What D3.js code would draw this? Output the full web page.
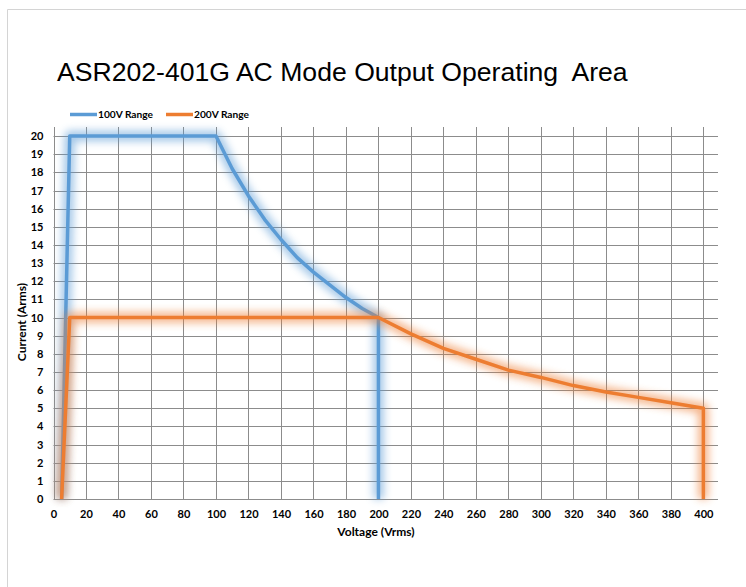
<!DOCTYPE html>
<html><head><meta charset="utf-8">
<script src="https://cdn.jsdelivr.net/npm/d3@7"></script>
<style>body{margin:0;background:#fff}svg{display:block}</style>
</head><body><svg id="c" width="746" height="587"></svg>
<script>
const title = "ASR202-401G AC Mode Output Operating\u00a0 Area";
const xTicks = d3.range(0, 401, 20);
const yTicks = d3.range(0, 21, 1);
const seriesNames = ["100V Range", "200V Range"];
const colors = ["#5b9bd5", "#ed7d31"];
const v100 = [5, 10, 100, 110, 120, 130, 140, 150, 160, 170, 180, 190, 200, 200];
const i100 = [0, 20, 20, 18.2, 16.7, 15.4, 14.3, 13.3, 12.5, 11.8, 11.1, 10.5, 10, 0];
const v200 = [5, 10, 200, 220, 240, 260, 280, 300, 320, 340, 360, 380, 400, 400];
const i200 = [0, 10, 10, 9.1, 8.3, 7.7, 7.1, 6.7, 6.25, 5.9, 5.6, 5.3, 5, 0];

const svg = d3.select("#c");
svg.append("path").attr("d","M7.5,587 V9.5 H746").attr("fill","none").attr("stroke","#d4d4d4").attr("stroke-width",1);

const L=53.5, R=718, T=127, B=499;
const x = d3.scaleLinear().domain([0, 409]).range([L, R]);
const y = d3.scaleLinear().domain([0, 20.5]).range([B, T]);

const defs = svg.append("defs");
const f = defs.append("filter").attr("id","glow").attr("x","-20%").attr("y","-20%").attr("width","140%").attr("height","140%");
f.append("feGaussianBlur").attr("in","SourceGraphic").attr("stdDeviation",4.5).attr("result","b");
f.append("feComponentTransfer").attr("in","b").attr("result","b2").append("feFuncA").attr("type","linear").attr("slope",0.6);
f.append("feMerge").append("feMergeNode").attr("in","b2");

const g = svg.append("g");
g.selectAll("line.h").data(yTicks).join("line")
  .attr("x1",L).attr("x2",R).attr("y1",d=>Math.round(y(d))+0.5).attr("y2",d=>Math.round(y(d))+0.5)
  .attr("stroke","#8c8c8c").attr("stroke-width",1);
g.selectAll("line.v").data(xTicks).join("line")
  .attr("y1",T).attr("y2",B).attr("x1",d=>Math.round(x(d))+0.5).attr("x2",d=>Math.round(x(d))+0.5)
  .attr("stroke","#8c8c8c").attr("stroke-width",1);

const FF = "Lato, 'Open Sans', sans-serif";
const xa = svg.append("g").attr("transform",`translate(0,${B})`)
  .call(d3.axisBottom(x).tickValues(xTicks).tickSize(0).tickPadding(11));
const ya = svg.append("g").attr("transform",`translate(${L},0)`)
  .call(d3.axisLeft(y).tickValues(yTicks).tickSize(0).tickPadding(10));
[xa,ya].forEach(a=>{a.select(".domain").remove();
  a.selectAll("text").attr("font-family",FF).attr("font-weight","bold").attr("font-size","11px").attr("fill","#000");});

const line = d3.line().x(d=>x(d[0])).y(d=>y(d[1]));
const data = [d3.zip(v100,i100), d3.zip(v200,i200)];
[0,1].forEach(k=>{
  svg.append("path").datum(data[k]).attr("d",line).attr("fill","none").attr("stroke",colors[k])
    .attr("stroke-width",10).attr("stroke-linejoin","round").attr("filter","url(#glow)");
  svg.append("path").datum(data[k]).attr("d",line).attr("fill","none").attr("stroke",colors[k])
    .attr("stroke-width",3.5).attr("stroke-linejoin","round");
});

svg.append("text").attr("x",57).attr("y",81).text(title)
  .attr("font-family","'Liberation Sans', Arial, sans-serif").attr("font-size","26.6px").attr("fill","#000");

const lx=[70,166];
seriesNames.forEach((s,k)=>{
  svg.append("line").attr("x1",lx[k]).attr("x2",lx[k]+27).attr("y1",114.5).attr("y2",114.5)
    .attr("stroke",colors[k]).attr("stroke-width",3.5);
  svg.append("text").attr("x",lx[k]+28).attr("y",118).text(s)
    .attr("font-family",FF).attr("font-weight","bold").attr("font-size","10.2px");
});

svg.append("text").attr("x",376).attr("y",536).attr("text-anchor","middle").text("Voltage (Vrms)")
  .attr("font-family",FF).attr("font-weight","bold").attr("font-size","12px");
svg.append("text").attr("transform","translate(26,322) rotate(-90)").attr("text-anchor","middle").text("Current (Arms)")
  .attr("font-family",FF).attr("font-weight","bold").attr("font-size","12px");
</script></body></html>
